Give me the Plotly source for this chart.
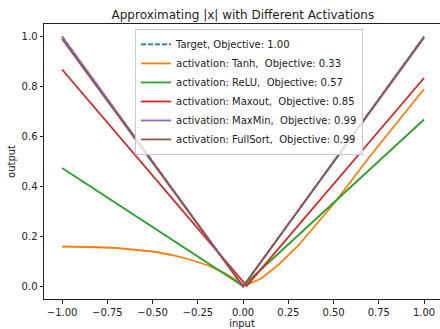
import plotly.graph_objects as go

# ---- data ----
target_x = [-1.0, 0.0, 1.0]
target_y = [1.0, 0.0, 1.0]

tanh_x = [-1.0, -0.9, -0.8, -0.7, -0.6, -0.5, -0.4, -0.3, -0.2, -0.1, 0.0, 0.01,
          0.1, 0.2, 0.3, 0.4, 0.5, 0.6, 0.7, 0.8, 0.9, 1.0]
tanh_y = [0.160, 0.159, 0.157, 0.154, 0.148, 0.140, 0.127, 0.109, 0.086, 0.053, 0.008, 0.004,
          0.032, 0.090, 0.160, 0.245, 0.330, 0.425, 0.520, 0.610, 0.700, 0.790]

relu_x = [-1.0, 0.0, 1.0]
relu_y = [0.474, 0.002, 0.668]

maxout_x = [-1.0, 0.02, 1.0]
maxout_y = [0.868, 0.003, 0.834]

maxmin_x = [-1.0, 0.0, 1.0]
maxmin_y = [1.0, 0.0, 1.0]

fullsort_x = [-1.0, 0.0, 1.0]
fullsort_y = [0.99, 0.0, 0.995]

names = [
    "Target, Objective: 1.00",
    "activation: Tanh, \u00a0Objective: 0.33",
    "activation: ReLU, \u00a0Objective: 0.57",
    "activation: Maxout, \u00a0Objective: 0.85",
    "activation: MaxMin, \u00a0Objective: 0.99",
    "activation: FullSort, \u00a0Objective: 0.99",
]
colors = ["#1f77b4", "#ff7f0e", "#2ca02c", "#d62728", "#9467bd", "#8c564b"]
xs = [target_x, tanh_x, relu_x, maxout_x, maxmin_x, fullsort_x]
ys = [target_y, tanh_y, relu_y, maxout_y, maxmin_y, fullsort_y]

x_ticks = [-1.0, -0.75, -0.5, -0.25, 0.0, 0.25, 0.5, 0.75, 1.0]
y_ticks = [0.0, 0.2, 0.4, 0.6, 0.8, 1.0]

FONT = "DejaVu Sans"

fig = go.Figure()
for i, (n, c, x, y) in enumerate(zip(names, colors, xs, ys)):
    fig.add_trace(go.Scatter(
        x=x, y=y, mode="lines", name=n,
        line=dict(color=c, width=1.8, dash="5px,2px" if i == 0 else "solid"),
    ))

axis_common = dict(
    showgrid=False, zeroline=False, showline=True, linecolor="#222",
    linewidth=1, mirror=True, ticks="outside", ticklen=3.5, tickwidth=0.8,
    tickcolor="#222", tickfont=dict(family=FONT, size=10, color="#222"),
    automargin=False,
)

fig.update_layout(
    width=440, height=329,
    margin=dict(l=44, r=0, t=24, b=30),
    paper_bgcolor="white", plot_bgcolor="white",
    font=dict(family=FONT, size=10, color="#222"),
    title=dict(text="Approximating |x| with Different Activations",
               x=0.552, xanchor="center", y=1 - 15 / 329, yanchor="middle",
               font=dict(family=FONT, size=12, color="#222")),
    xaxis=dict(range=[-1.1, 1.088], tickvals=x_ticks, tickformat=".2f",
               title=dict(text="input", standoff=0, font=dict(size=10)),
               **axis_common),
    yaxis=dict(range=[-0.05, 1.05], tickvals=y_ticks, tickformat=".1f",
               title=dict(text="output", standoff=4, font=dict(size=10)),
               **axis_common),
    legend=dict(x=0.2298, y=0.982, xanchor="left", yanchor="top",
                bgcolor="rgba(255,255,255,0.8)", bordercolor="#cccccc",
                borderwidth=1, font=dict(family=FONT, size=10, color="#222"),
                tracegroupgap=0),
    showlegend=True,
)

fig.write_html(
    "out.html",
    config={"displayModeBar": False},
    post_script="document.body.style.margin='0';document.body.style.padding='0';",
)
